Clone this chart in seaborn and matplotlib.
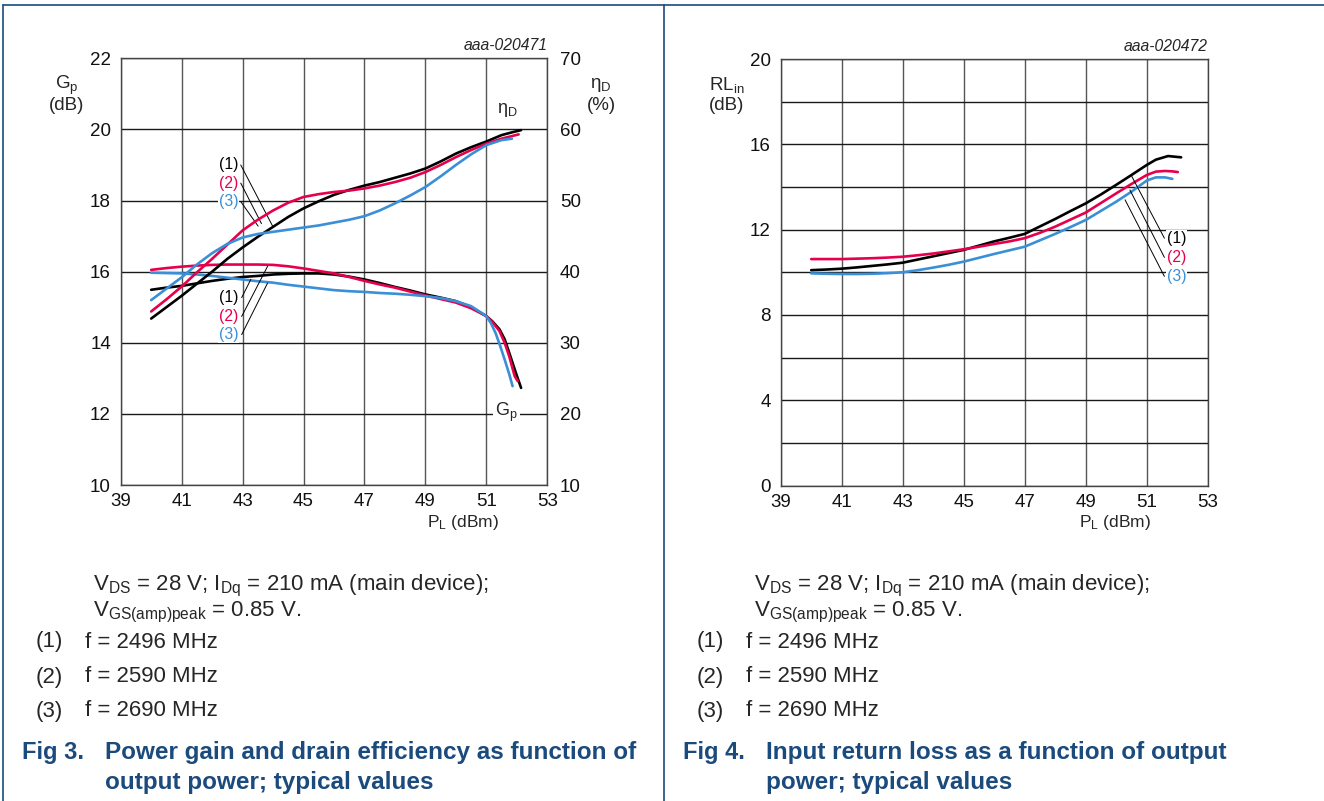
import numpy as np
import pandas as pd
import matplotlib
matplotlib.use("Agg")
import matplotlib.pyplot as plt
from matplotlib.lines import Line2D
import seaborn as sns

# ---- data ----
# power gain Gp (dB) vs load power PL (dBm)
gain_pl_1 = [40, 40.5, 41, 41.5, 42, 42.5, 43, 43.5, 44, 44.5, 45, 45.5, 46, 46.5, 47, 47.5, 48, 48.5, 49, 49.5, 50, 50.5, 51, 51.2, 51.43, 51.6, 51.75, 51.97, 52.14]
gain_1 = [15.49, 15.55, 15.6, 15.67, 15.74, 15.8, 15.85, 15.88, 15.92, 15.94, 15.95, 15.95, 15.92, 15.86, 15.78, 15.68, 15.57, 15.47, 15.36, 15.27, 15.17, 15.0, 14.75, 14.6, 14.38, 14.1, 13.72, 13.15, 12.73]
gain_pl_2 = [40, 40.5, 41, 41.5, 42, 42.5, 43, 43.5, 44, 44.5, 45, 45.5, 46, 46.5, 47, 47.5, 48, 48.5, 49, 49.5, 50, 50.5, 51, 51.2, 51.43, 51.6, 51.75, 51.93, 52.03]
gain_2 = [16.05, 16.1, 16.14, 16.17, 16.19, 16.2, 16.2, 16.2, 16.19, 16.15, 16.09, 16.02, 15.95, 15.85, 15.74, 15.64, 15.55, 15.44, 15.33, 15.23, 15.13, 14.97, 14.75, 14.58, 14.33, 14.0, 13.62, 13.06, 12.92]
gain_pl_3 = [40, 40.5, 41, 41.5, 42, 42.5, 43, 43.5, 44, 44.5, 45, 45.5, 46, 46.5, 47, 47.5, 48, 48.5, 49, 49.5, 50, 50.5, 51, 51.15, 51.3, 51.45, 51.6, 51.75, 51.86]
gain_3 = [15.97, 15.96, 15.95, 15.92, 15.88, 15.83, 15.78, 15.73, 15.69, 15.63, 15.58, 15.53, 15.48, 15.45, 15.43, 15.4, 15.38, 15.35, 15.31, 15.26, 15.17, 15.03, 14.75, 14.55, 14.28, 13.92, 13.53, 13.12, 12.78]

# drain efficiency (%) vs PL
eff_pl_1 = [40, 40.5, 41, 41.5, 42, 42.5, 43, 43.5, 44, 44.5, 45, 45.5, 46, 46.5, 47, 47.5, 48, 48.5, 49, 49.5, 50, 50.5, 51, 51.5, 51.85, 52.14]
eff_1 = [33.4, 35.0, 36.6, 38.3, 40.0, 41.8, 43.4, 44.9, 46.3, 47.7, 48.9, 49.9, 50.8, 51.5, 52.1, 52.6, 53.2, 53.8, 54.5, 55.5, 56.6, 57.5, 58.3, 59.2, 59.6, 59.9]
eff_pl_2 = [40, 40.5, 41, 41.5, 42, 42.5, 43, 43.5, 44, 44.5, 45, 45.5, 46, 46.5, 47, 47.5, 48, 48.5, 49, 49.5, 50, 50.5, 51, 51.5, 52.06]
eff_2 = [34.4, 36.1, 37.9, 39.9, 41.8, 43.8, 45.8, 47.3, 48.6, 49.7, 50.5, 50.9, 51.2, 51.4, 51.7, 52.1, 52.6, 53.2, 54.0, 55.0, 56.1, 57.1, 58.0, 58.7, 59.3]
eff_pl_3 = [40, 40.5, 41, 41.5, 42, 42.5, 43, 43.5, 44, 44.5, 45, 45.5, 46, 46.5, 47, 47.5, 48, 48.5, 49, 49.5, 50, 50.5, 51, 51.5, 51.84]
eff_3 = [36.0, 37.6, 39.2, 41.0, 42.6, 43.9, 44.8, 45.3, 45.6, 45.9, 46.2, 46.5, 46.9, 47.3, 47.8, 48.6, 49.6, 50.7, 51.9, 53.4, 55.0, 56.5, 57.8, 58.5, 58.7]

# input return loss RLin (dB) vs PL
rl_pl_1 = [40, 40.5, 41, 41.5, 42, 42.5, 43, 43.5, 44, 44.5, 45, 45.5, 46, 46.5, 47, 47.5, 48, 48.5, 49, 49.5, 50, 50.5, 51, 51.3, 51.7, 52.13]
rl_1 = [10.1, 10.13, 10.17, 10.23, 10.3, 10.37, 10.45, 10.6, 10.75, 10.9, 11.05, 11.25, 11.45, 11.62, 11.8, 12.15, 12.5, 12.87, 13.23, 13.65, 14.1, 14.56, 15.03, 15.28, 15.45, 15.39]
rl_pl_2 = [40, 40.5, 41, 41.5, 42, 42.5, 43, 43.5, 44, 44.5, 45, 45.5, 46, 46.5, 47, 47.5, 48, 48.5, 49, 49.5, 50, 50.5, 51, 51.3, 51.6, 51.85, 52.02]
rl_2 = [10.62, 10.62, 10.62, 10.64, 10.66, 10.69, 10.73, 10.8, 10.88, 10.98, 11.08, 11.2, 11.33, 11.45, 11.6, 11.85, 12.14, 12.47, 12.8, 13.25, 13.7, 14.14, 14.56, 14.72, 14.75, 14.73, 14.7]
rl_pl_3 = [40, 40.5, 41, 41.5, 42, 42.5, 43, 43.5, 44, 44.5, 45, 45.5, 46, 46.5, 47, 47.5, 48, 48.5, 49, 49.5, 50, 50.5, 51, 51.3, 51.6, 51.84]
rl_3 = [9.95, 9.93, 9.92, 9.92, 9.93, 9.96, 10.0, 10.1, 10.22, 10.35, 10.5, 10.68, 10.86, 11.03, 11.2, 11.5, 11.8, 12.12, 12.45, 12.88, 13.31, 13.78, 14.3, 14.45, 14.45, 14.38]

curve_labels = ["(1)", "(2)", "(3)"]
freq_labels = ["f = 2496 MHz", "f = 2590 MHz", "f = 2690 MHz"]
x_ticks = [39, 41, 43, 45, 47, 49, 51, 53]
gain_ticks = [10, 12, 14, 16, 18, 20, 22]
eff_ticks = [10, 20, 30, 40, 50, 60, 70]
rl_ticks = [0, 2, 4, 6, 8, 10, 12, 14, 16, 18, 20]

colors = ["#000000", "#e6004c", "#3a8fd6"]
navy = "#1b4a7c"

sns.set_style("white")
plt.rcParams["font.family"] = ["Liberation Sans", "DejaVu Sans"]
plt.rcParams["mathtext.fontset"] = "custom"
plt.rcParams["mathtext.rm"] = "Liberation Sans"
plt.rcParams["mathtext.it"] = "Liberation Sans:italic"

W, H = 1324, 801
fig = plt.figure(figsize=(W / 100, H / 100), dpi=100)


def fx(px):
    return px / W


def fy(py):
    return 1 - py / H


def style_axes(ax):
    ax.xaxis.grid(True, color="#555555", lw=1.0)
    ax.yaxis.grid(True, color="#1a1a1a", lw=1.0)
    for s in ax.spines.values():
        s.set_color("#444444")
        s.set_linewidth(1.0)
    ax.tick_params(length=0, labelsize=13.5, colors="#111111")
    ax.tick_params(axis="x", pad=6)
    ax.tick_params(axis="y", pad=7)
    ax.set_xlabel("")
    ax.set_ylabel("")


# ---------------- Fig 3 ----------------
ax1 = fig.add_axes([fx(120.7), fy(485), fx(547.3) - fx(120.7), fy(58.3) - fy(485)])
ax1.set_xlim(39, 53)
ax1.set_ylim(10, 22)
ax1.set_xticks(x_ticks)
ax1.set_yticks(gain_ticks)
style_axes(ax1)

ax1b = ax1.twinx()
ax1b.set_ylim(10, 70)
ax1b.set_yticks(eff_ticks)
ax1b.tick_params(length=0, labelsize=13.5, pad=9, colors="#111111")
ax1b.grid(False)
for s in ax1b.spines.values():
    s.set_visible(False)

for xs, ys, c in zip([gain_pl_1, gain_pl_2, gain_pl_3], [gain_1, gain_2, gain_3], colors):
    sns.lineplot(x=xs, y=ys, ax=ax1, color=c, lw=1.9, sort=False, estimator=None)
for xs, ys, c in zip([eff_pl_1, eff_pl_2, eff_pl_3], [eff_1, eff_2, eff_3], colors):
    sns.lineplot(x=xs, y=ys, ax=ax1b, color=c, lw=1.9, sort=False, estimator=None)
ax1b.set_ylabel("")

# callouts for efficiency curves
eff_lab_y = [19.0, 18.49, 17.97]
eff_end = [(43.98, 17.29), (43.62, 17.35), (43.51, 17.28)]
for lab, c, ly, (ex, ey) in zip(curve_labels, colors, eff_lab_y, eff_end):
    ax1.plot([42.94, ex], [ly, ey], color="black", lw=0.7, zorder=3)
    ax1.text(42.87, ly, lab, color=c, fontsize=11.3, ha="right", va="center", zorder=4,
             bbox=dict(facecolor="white", edgecolor="none", pad=0.6))

# callouts for gain curves
gain_lab_y = [15.27, 14.74, 14.23]
gain_end = [(43.27, 15.78), (43.82, 16.15), (43.82, 15.68)]
for lab, c, ly, (ex, ey) in zip(curve_labels, colors, gain_lab_y, gain_end):
    ax1.plot([42.97, ex], [ly, ey], color="black", lw=0.7, zorder=3)
    ax1.text(42.87, ly, lab, color=c, fontsize=11.3, ha="right", va="center", zorder=4,
             bbox=dict(facecolor="white", edgecolor="none", pad=0.6))

ax1.text(51.67, 12.05, r"G$_\mathregular{p}$", fontsize=13, ha="center", va="center", zorder=4,
         bbox=dict(facecolor="white", edgecolor="none", pad=1.5))
ax1.text(51.7, 20.55, r"η$_\mathregular{D}$", fontsize=13, ha="center", va="center", zorder=4)
ax1.text(1.0, 1.012, "aaa-020471", transform=ax1.transAxes, fontsize=11.3, style="italic",
         ha="right", va="bottom")

fig.text(fx(67), fy(85), r"G$_\mathregular{p}$", fontsize=13.5, ha="center", va="center")
fig.text(fx(67), fy(105), "(dB)", fontsize=13.5, ha="center", va="center")
fig.text(fx(601), fy(85), r"η$_\mathregular{D}$", fontsize=13.5, ha="center", va="center")
fig.text(fx(601), fy(105), "(%)", fontsize=13.5, ha="center", va="center")
fig.text(fx(463), fy(522), r"P$_\mathregular{L}$ (dBm)", fontsize=12.5, ha="center", va="center")

# ---------------- Fig 4 ----------------
ax2 = fig.add_axes([fx(780.7), fy(485.6), fx(1207.7) - fx(780.7), fy(59) - fy(485.6)])
ax2.set_xlim(39, 53)
ax2.set_ylim(0, 20)
ax2.set_xticks(x_ticks)
ax2.set_yticks(rl_ticks)
ax2.set_yticklabels([str(t) if t % 4 == 0 else "" for t in rl_ticks])
style_axes(ax2)

for xs, ys, c in zip([rl_pl_1, rl_pl_2, rl_pl_3], [rl_1, rl_2, rl_3], colors):
    sns.lineplot(x=xs, y=ys, ax=ax2, color=c, lw=1.9, sort=False, estimator=None)
ax2.set_ylabel("")

rl_lab_y = [11.6, 10.7, 9.81]
rl_end = [(50.51, 14.5), (50.45, 13.86), (50.29, 13.4)]
for lab, c, ly, (ex, ey) in zip(curve_labels, colors, rl_lab_y, rl_end):
    ax2.plot([51.58, ex], [ly, ey], color="black", lw=0.7, zorder=3)
    ax2.text(51.66, ly, lab, color=c, fontsize=11.3, ha="left", va="center", zorder=4,
             bbox=dict(facecolor="white", edgecolor="none", pad=0.6))

ax2.text(1.0, 1.012, "aaa-020472", transform=ax2.transAxes, fontsize=11.3, style="italic",
         ha="right", va="bottom")
fig.text(fx(727), fy(85), r"RL$_\mathregular{in}$", fontsize=13.5, ha="center", va="center")
fig.text(fx(727), fy(105), "(dB)", fontsize=13.5, ha="center", va="center")
fig.text(fx(1115), fy(522), r"P$_\mathregular{L}$ (dBm)", fontsize=12.5, ha="center", va="center")

# ---------------- captions ----------------
cond_text = (r"V$_\mathregular{DS}$ = 28 V; I$_\mathregular{Dq}$ = 210 mA (main device);" "\n"
             r"V$_\mathregular{GS(amp)peak}$ = 0.85 V.")
for off, fig_no, title1, title2 in [
    (0, "Fig 3.", "Power gain and drain efficiency as function of", "output power; typical values"),
    (661, "Fig 4.", "Input return loss as a function of output", "power; typical values"),
]:
    fig.text(fx(93 + off), fy(599), cond_text, fontsize=16, ha="left", va="center",
             linespacing=1.05)
    for i, (lab, fl) in enumerate(zip(curve_labels, freq_labels)):
        yy = [642, 677, 711][i]
        fig.text(fx(36 + off), fy(yy), lab, fontsize=16, ha="left", va="center")
        fig.text(fx(85 + off), fy(yy), fl, fontsize=16, ha="left", va="center")
    fig.text(fx(22 + off), fy(752), fig_no, fontsize=17, fontweight="bold", color=navy,
             ha="left", va="center")
    fig.text(fx(105 + off), fy(752), title1, fontsize=17.5, fontweight="bold", color=navy,
             ha="left", va="center")
    fig.text(fx(105 + off), fy(782), title2, fontsize=17.5, fontweight="bold", color=navy,
             ha="left", va="center")

# frame lines of the datasheet
fig.add_artist(Line2D([fx(3), fx(3)], [fy(5), 0], color=navy, lw=1.2))
fig.add_artist(Line2D([fx(3), 1], [fy(5), fy(5)], color=navy, lw=1.2))
fig.add_artist(Line2D([fx(664), fx(664)], [fy(5), 0], color=navy, lw=1.2))

fig.savefig("out.png", dpi=100)
